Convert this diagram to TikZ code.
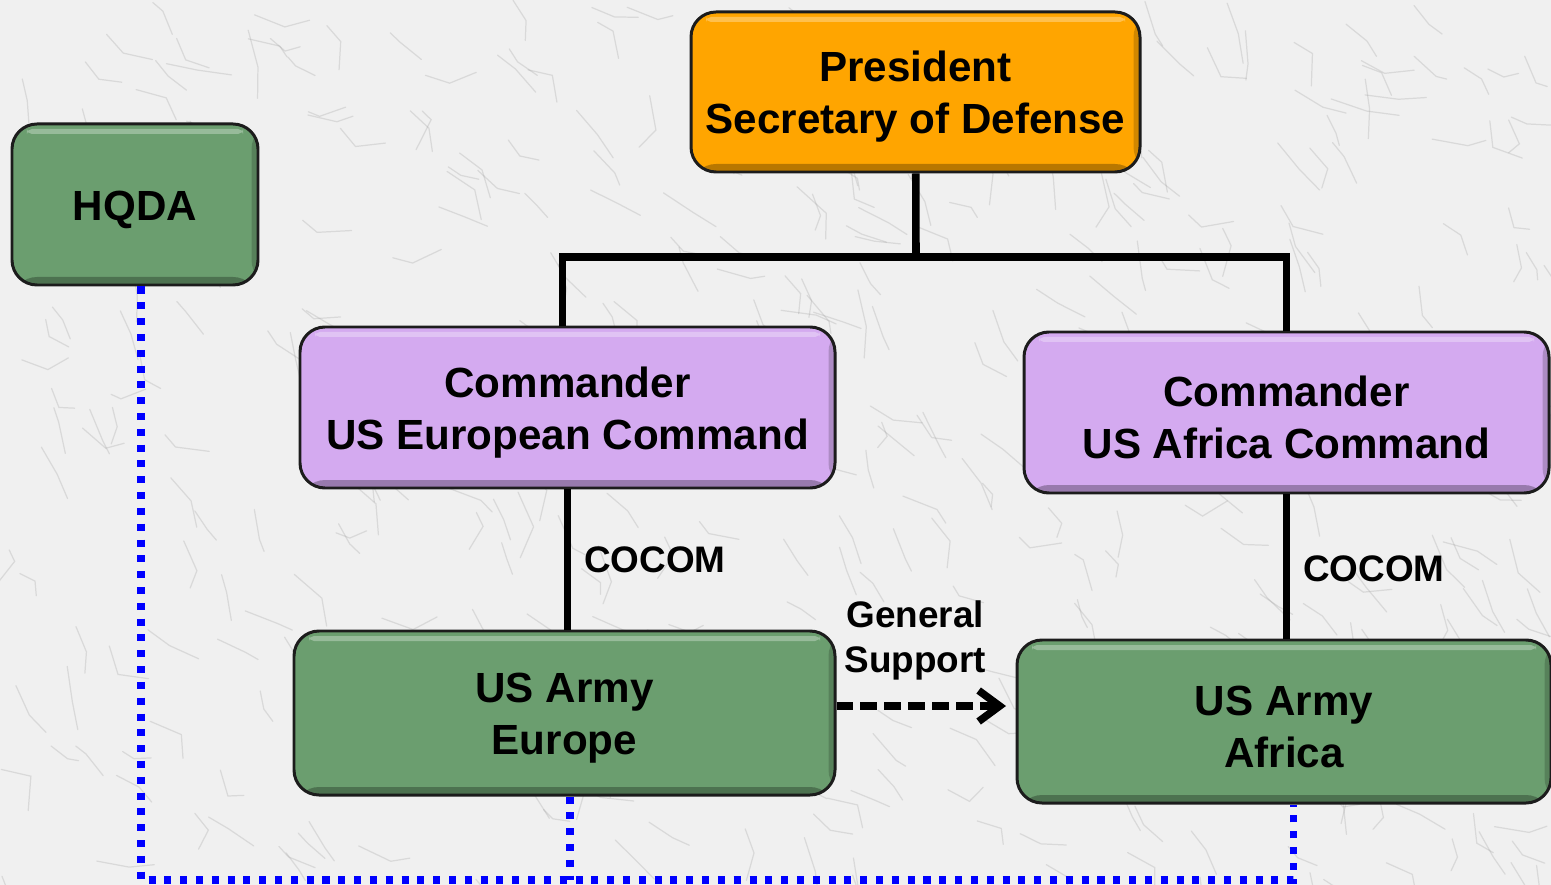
\documentclass[tikz,border=0pt]{standalone}
\usepackage{tikz}
\usepackage{fontspec}
\setmainfont{Liberation Sans}
\usetikzlibrary{arrows.meta}
\usetikzlibrary{shapes}
\usetikzlibrary{calc}
\usetikzlibrary{positioning}
\definecolor{armygreen}{RGB}{107,158,111}
\definecolor{natorange}{RGB}{255,165,0}
\definecolor{cmdpurple}{RGB}{212,170,240}
\definecolor{boxline}{RGB}{28,28,28}
\definecolor{marble}{RGB}{240,240,240}
\definecolor{vein}{RGB}{150,150,150}
\tikzstyle{org}=[shape=rectangle,draw=boxline,line width=1.7pt,rounded corners=0.5cm,align=center,inner sep=0pt,
  font=\bfseries\fontsize{24}{29.5}\selectfont,
  path picture={
    \fill[black,opacity=0.28] (path picture bounding box.south west) rectangle ([yshift=0.16cm]path picture bounding box.south east);
    \fill[black,opacity=0.18] (path picture bounding box.north east) rectangle ([xshift=-0.13cm]path picture bounding box.south east);
    \fill[white,opacity=0.3,rounded corners=0.1cm] ([xshift=0.3cm,yshift=-0.1cm]path picture bounding box.north west) rectangle ([xshift=-0.3cm,yshift=-0.2cm]path picture bounding box.north east);
  }]
\tikzstyle{natl}=[org,fill=natorange,minimum width=8.98cm,minimum height=3.2cm]
\tikzstyle{cmd}=[org,fill=cmdpurple,minimum height=3.22cm]
\tikzstyle{army}=[org,fill=armygreen,minimum height=3.26cm]
\tikzstyle{tree}=[draw,line width=4.3pt,line join=miter]
\tikzstyle{adcon}=[draw=blue,line width=4pt,dash pattern=on 4pt off 5pt]
\tikzstyle{gsup}=[draw,line width=4.3pt,dash pattern=on 9.6pt off 4pt,-{Straight Barb[length=4.2mm,width=6.2mm]}]
\tikzstyle{rel}=[font=\bfseries\fontsize{21}{25.5}\selectfont,align=center]
\newcommand{\padtop}{\rule{0pt}{23pt}}

\begin{document}
\begin{tikzpicture}[x = 0.2cm, y = -0.2cm]
\fill[marble] (0,0) rectangle (155.1,88.5);
\useasboundingbox (0,0) rectangle (155.1,88.5);
% marble veins
\pgfmathsetseed{11}
\foreach \i in {1,...,420}{
  \pgfmathsetmacro{\vx}{rnd*155}
  \pgfmathsetmacro{\vy}{rnd*88}
  \pgfmathsetmacro{\va}{20+rnd*60}
  \draw[vein, opacity=0.25, line width=0.7pt, line cap=round] (\vx,\vy) -- ++(\va:{1+rnd*3}) -- ++({\va-60+rnd*120}:{1+rnd*2.5});
}

\node[natl] (pres) at (91.55,9.2) {\padtop President\\Secretary of Defense};
\node[army, minimum width=4.92cm, minimum height=3.22cm] (hqda) at (13.5,20.45) {\padtop HQDA};
\node[cmd, minimum width=10.7cm] (eucom) at (56.75,40.75) {\padtop Commander\\US European Command};
\node[cmd, minimum width=10.5cm] (africom) at (128.65,41.25) {\padtop Commander\\US Africa Command};
\node[army, minimum width=10.82cm, minimum height=3.28cm] (eur) at (56.45,71.3) {\padtop US Army\\Europe};
\node[army, minimum width=10.68cm] (afr) at (128.4,72.15) {\padtop US Army\\Africa};
%\node[army] (eur) at (56,71) {};
%\node[army] (afr) at (128,72) {};

\coordinate (bus) at (91.6,25.7);
\coordinate (low) at (57,88.0);
\coordinate (gsend) at (100.6,70.6);

\draw[tree] (pres) -- (bus);
\draw[tree] ([xshift=-0.1cm]eucom.north) |- (bus) -| (africom.north);
\draw[tree] (eucom.south) -- node[rel, right=0.14cm] {COCOM} (eucom.south|-eur.north);
\draw[tree] (africom.south) -- node[rel, right=0.14cm, yshift=-0.05cm] {COCOM} (africom.south|-afr.north);

\draw[gsup] (eur.east|-gsend) -- node[rel, above=0.32cm, xshift=-0.12cm] {General\\Support} (gsend);

\draw[adcon] ([xshift=0.12cm]hqda.south) |- (low) -| ([xshift=0.18cm]afr.south);
\draw[adcon] ([xshift=0.11cm]eur.south) -- ([xshift=0.11cm]eur.south|-low);
\end{tikzpicture}
\end{document}
